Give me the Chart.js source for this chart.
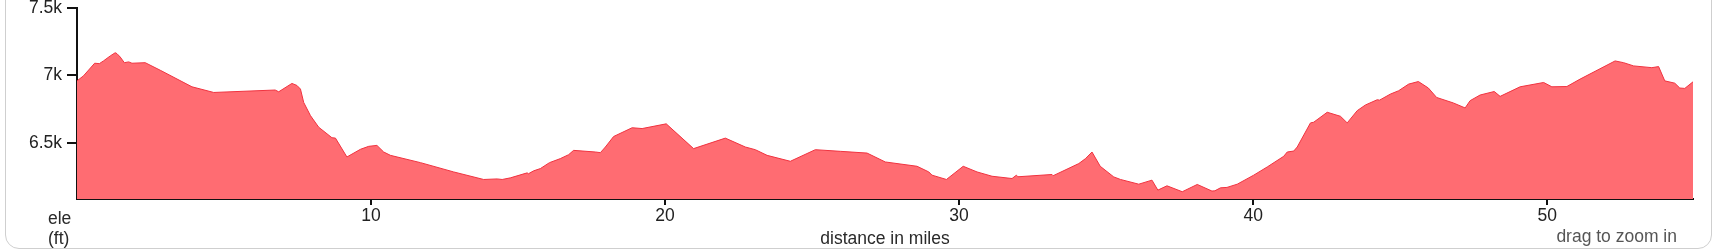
<!DOCTYPE html>
<html>
<head>
<meta charset="utf-8">
<script src="https://cdn.jsdelivr.net/npm/chart.js@4.4.0/dist/chart.umd.min.js"></script>
<style>
    body { margin: 0; background: #fff; font-family: "Liberation Sans", Arial, sans-serif; }
    #wrap { position: relative; width: 1713px; height: 250px; overflow: hidden; }
    #frame {
        position: absolute; left: 5px; top: -30px; width: 1705px; height: 277px;
        border: 1px solid #cfcfcf; border-radius: 14px;
    }
    canvas { position: absolute; left: 0; top: 0; }
    .lbl { position: absolute; font-size: 17.5px; line-height: 21px; color: #2a2a2a; white-space: nowrap; }
</style>
</head>
<body>
<div id="wrap">
    <div id="frame"></div>
    <canvas id="chart" width="1713" height="250"></canvas>
    <div class="lbl" style="left:48px; top:208px">ele</div>
    <div class="lbl" style="left:48px; top:228px">(ft)</div>
    <div class="lbl" id="xtitle" style="left:885px; top:228px; transform:translateX(-50%)">distance in miles</div>
    <div class="lbl" style="right:36px; top:226px; color:#555">drag to zoom in</div>
</div>
<script>
// distance along the route (miles) and elevation (ft)
const miles = [
    0.0, 0.22, 0.6, 0.76, 0.9, 1.13, 1.3, 1.36, 1.47, 1.61, 1.76, 1.87, 2.32, 2.83, 3.91, 4.65,
    6.74, 6.86, 7.31, 7.48, 7.6, 7.71, 7.94, 8.22, 8.67, 8.79, 9.18, 9.64, 9.92, 10.2, 10.43, 10.66,
    11.68, 12.81, 13.83, 14.29, 14.46, 14.74, 15.31, 15.35, 15.53, 15.76, 16.07, 16.44, 16.72, 16.89,
    17.63, 17.8, 17.97, 18.25, 18.88, 19.22, 20.04, 20.97, 22.05, 22.73, 23.07, 23.47, 24.26, 25.11,
    25.96, 26.87, 27.49, 28.57, 28.97, 29.08, 29.57, 30.14, 30.61, 31.12, 31.8, 31.95, 32.0, 33.16,
    33.2, 34.07, 34.3, 34.52, 34.8, 35.26, 35.49, 36.11, 36.56, 36.76, 37.07, 37.59, 38.1, 38.6,
    38.7, 38.89, 39.11, 39.46, 40.02, 40.48, 41.04, 41.16, 41.38, 41.5, 41.95, 42.06, 42.52, 42.97,
    43.2, 43.54, 43.82, 44.22, 44.3, 44.67, 44.95, 45.29, 45.62, 45.96, 46.24, 46.81, 47.21, 47.38,
    47.72, 48.2, 48.4, 49.08, 49.88, 50.16, 50.67, 51.12, 52.31, 52.6, 52.94, 53.56, 53.79, 54.0,
    54.34, 54.51, 54.68, 54.96
]
const elevation = [
    6959, 6996, 7090, 7087, 7107, 7144, 7168, 7161, 7136, 7094, 7100, 7090, 7094, 7038, 6915, 6873,
    6891, 6878, 6940, 6925, 6898, 6799, 6701, 6615, 6537, 6534, 6394, 6451, 6473, 6480, 6431, 6406,
    6352, 6283, 6227, 6231, 6227, 6239, 6276, 6269, 6291, 6308, 6352, 6382, 6411, 6443,
    6431, 6426, 6468, 6546, 6611, 6605, 6640, 6456, 6534, 6468, 6448, 6406, 6362, 6448,
    6436, 6423, 6357, 6325, 6283, 6259, 6227, 6325, 6283, 6251, 6234, 6259, 6247, 6264,
    6255, 6345, 6382, 6431, 6325, 6246, 6227, 6192, 6222, 6148, 6180, 6136, 6190, 6141,
    6143, 6165, 6168, 6192, 6259, 6320, 6399, 6431, 6438, 6468, 6647, 6652, 6726, 6696,
    6647, 6738, 6780, 6819, 6816, 6861, 6886, 6935, 6954, 6906, 6836, 6795, 6758, 6812,
    6854, 6880, 6844, 6915, 6947, 6915, 6917, 6972, 7107, 7094, 7070, 7057, 7065, 6959,
    6942, 6906, 6903, 6952
]

const xTicks = [10, 20, 30, 40, 50]
const yTicks = [6500, 7000, 7500]
const yTickLabels = ['6.5k', '7k', '7.5k']

const tickFont = { family: '"Liberation Sans", Arial, sans-serif', size: 17.5 }

new Chart(document.getElementById('chart').getContext('2d'), {
    type: 'line',
    data: {
        datasets: [{
            label: 'ele',
            data: miles.map((m, i) => ({ x: m, y: elevation[i] })),
            borderColor: '#f0323f',
            borderWidth: 1,
            backgroundColor: 'rgb(255, 108, 114)',
            fill: 'start',
            tension: 0,
            pointRadius: 0
        }]
    },
    options: {
        responsive: false,
        animation: false,
        devicePixelRatio: 1,
        layout: { padding: { left: 0, top: 8, right: 20, bottom: 0 } },
        plugins: { legend: { display: false }, tooltip: { enabled: false } },
        scales: {
            x: {
                type: 'linear',
                min: 0,
                max: 54.96,
                afterBuildTicks: s => { s.ticks = xTicks.map(v => ({ value: v })) },
                afterFit: s => { s.height = 51 },
                grid: { drawOnChartArea: false, drawTicks: true, tickLength: 6, color: '#111', lineWidth: 2 },
                border: { display: true, color: '#111', width: 2 },
                ticks: { autoSkip: false, maxRotation: 0, padding: 1, color: '#222', font: tickFont }
            },
            y: {
                min: 6082,
                max: 7500,
                afterBuildTicks: s => { s.ticks = yTicks.map(v => ({ value: v })) },
                afterFit: s => { s.width = 77; s.paddingTop = 0; s.paddingBottom = 0 },
                grid: { drawOnChartArea: false, drawTicks: true, tickLength: 10, color: '#111', lineWidth: 2 },
                border: { display: true, color: '#111', width: 2 },
                ticks: {
                    padding: 5, color: '#222', font: tickFont,
                    callback: v => yTickLabels[yTicks.indexOf(v)]
                }
            }
        }
    }
});
</script>
</body>
</html>
